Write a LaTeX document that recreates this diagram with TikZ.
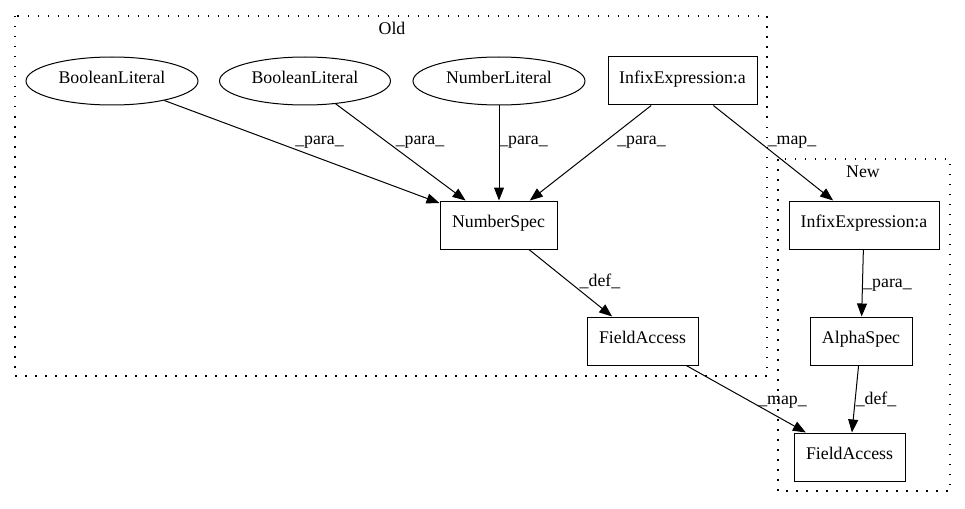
\documentclass[tikz,border=0pt]{standalone}
\usepackage{fontspec}
\setmainfont{Liberation Serif}
\usetikzlibrary{arrows.meta,shapes.geometric}
\begin{document}
\begin{tikzpicture}[x=1pt,y=-1pt,
  every node/.style={font=\fontsize{17.8pt}{21pt}\selectfont, inner sep=0pt, text height=0.7em, text depth=0.25em},
  ell/.style={draw, ellipse, line width=1pt, minimum height=48pt},
  boxnode/.style={draw, rectangle, line width=1pt, minimum height=48pt},
  cluster/.style={line width=1.2pt, dash pattern=on 1.5pt off 8.5pt},
  edge/.style={line width=1pt, -{Triangle[length=13pt,width=10pt]}},
  lbl/.style={anchor=center}]
\useasboundingbox (0,0) rectangle (965,508);
\draw[cluster] (15,16) rectangle (767,376);
\draw[cluster] (778,159) rectangle (950,491);
\node (oldlbl) at (392,32) {Old};
\node (newlbl) at (863,175) {New};

\node[ell, minimum width=172pt] (bl1) at (112,81) {BooleanLiteral};
\node[ell, minimum width=171pt] (bl2) at (305,81) {BooleanLiteral};
\node[ell, minimum width=172pt] (nl) at (499,81) {NumberLiteral};
\node[boxnode, minimum width=149pt] (ixo) at (682.5,81) {InfixExpression:a};
\node[boxnode, minimum width=117pt] (ns) at (498.5,225) {NumberSpec};
\node[boxnode, minimum width=111pt] (fao) at (642.5,341) {FieldAccess};
\node[boxnode, minimum width=150pt] (ixn) at (864,225) {InfixExpression:a};
\node[boxnode, minimum width=102pt] (as) at (861,341) {AlphaSpec};
\node[boxnode, minimum width=111pt] (fan) at (849.5,457) {FieldAccess};

\draw[edge] (bl1) -- (ns) node[lbl] at (319.5,142) {\_para\_};
\draw[edge] (bl2) -- (ns) node[lbl] at (420,142) {\_para\_};
\draw[edge] (nl) -- (ns.north -| nl) node[lbl] at (523.5,142) {\_para\_};
\draw[edge] (ixo) -- (ns) node[lbl] at (641.5,142) {\_para\_};
\draw[edge] (ixo) -- (ixn) node[lbl] at (792,142) {\_map\_};
\draw[edge] (ns) -- (fao) node[lbl] at (600,284) {\_def\_};
\draw[edge] (ixn) -- (as) node[lbl] at (887.5,285) {\_para\_};
\draw[edge] (as) -- (fan) node[lbl] at (876,402) {\_def\_};
\draw[edge] (fao) -- (fan) node[lbl] at (782.5,402) {\_map\_};
\end{tikzpicture}
\end{document}
